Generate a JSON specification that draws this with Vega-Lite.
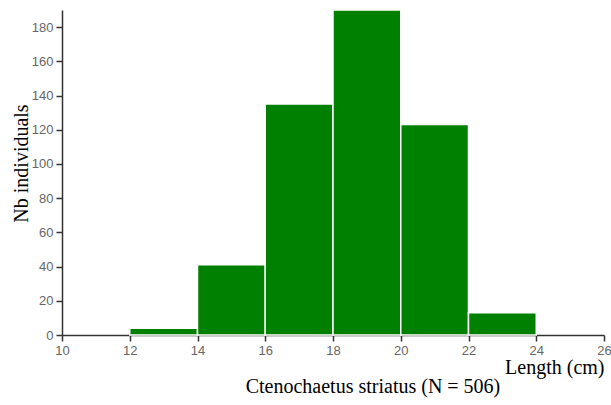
{
  "$schema": "https://vega.github.io/schema/vega-lite/v6.json",
  "width": 542,
  "height": 325,
  "autosize": {"type": "none"},
  "padding": {"left": 62, "top": 10, "right": 7, "bottom": 70},
  "background": "white",
  "data": {
    "values": [
      {"bin_start": 12, "bin_end": 14, "count": 4},
      {"bin_start": 14, "bin_end": 16, "count": 41},
      {"bin_start": 16, "bin_end": 18, "count": 135},
      {"bin_start": 18, "bin_end": 20, "count": 190},
      {"bin_start": 20, "bin_end": 22, "count": 123},
      {"bin_start": 22, "bin_end": 24, "count": 13}
    ]
  },
  "mark": {"type": "rect", "color": "#008000", "stroke": "white", "strokeWidth": 1.5, "strokeOpacity": 1, "opacity": 1},
  "encoding": {
    "x": {
      "field": "bin_start",
      "type": "quantitative",
      "scale": {"domain": [10, 26], "nice": false, "zero": false},
      "axis": {
        "values": [10, 12, 14, 16, 18, 20, 22, 24, 26],
        "grid": false,
        "title": "Length (cm)",
        "titleFont": "Liberation Serif",
        "titleFontSize": 20,
        "titleFontWeight": "normal",
        "titleColor": "#000",
        "titleX": 542,
        "titleY": 38,
        "titleAlign": "right",
        "titleBaseline": "alphabetic",
        "labelFont": "Liberation Sans",
        "labelFontSize": 13,
        "labelColor": "#666",
        "labelPadding": 3,
        "labelFlush": false,
        "tickSize": 6,
        "tickColor": "#333",
        "domainColor": "#333",
        "domainWidth": 1.5,
        "tickWidth": 1.5
      }
    },
    "x2": {"field": "bin_end"},
    "y": {
      "field": "count",
      "type": "quantitative",
      "scale": {"domain": [0, 190], "nice": false},
      "axis": {
        "values": [0, 20, 40, 60, 80, 100, 120, 140, 160, 180],
        "grid": false,
        "title": "Nb individuals",
        "titleFont": "Liberation Serif",
        "titleFontSize": 20,
        "titleFontWeight": "normal",
        "titleColor": "#000",
        "titleAngle": -90,
        "titleX": -35,
        "titleY": 153,
        "titleAlign": "center",
        "titleBaseline": "alphabetic",
        "labelFont": "Liberation Sans",
        "labelFontSize": 13,
        "labelColor": "#666",
        "labelPadding": 3,
        "labelFlush": false,
        "tickSize": 6,
        "tickColor": "#333",
        "domainColor": "#333",
        "domainWidth": 1.5,
        "tickWidth": 1.5
      }
    },
    "y2": {"datum": 0}
  },
  "title": {
    "text": "Ctenochaetus striatus (N = 506)",
    "orient": "bottom",
    "anchor": "middle",
    "dx": 40,
    "offset": 16,
    "font": "Liberation Serif",
    "fontSize": 20,
    "fontWeight": "normal",
    "color": "#000",
    "baseline": "alphabetic"
  },
  "config": {"view": {"stroke": null}}
}
